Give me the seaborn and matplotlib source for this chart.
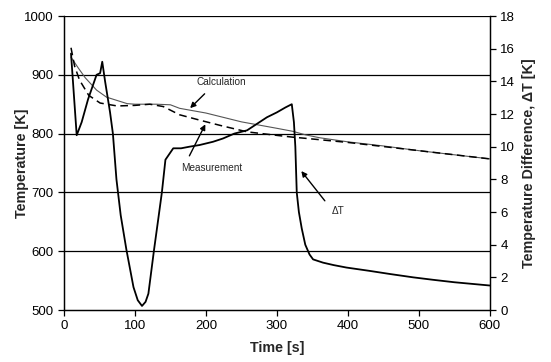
import pandas as pd
import seaborn as sns
import matplotlib.pyplot as plt

# Calculation (temperature, K)
calc_time = [10, 20, 30, 46, 60, 89, 100, 130, 150, 163, 200, 250, 300, 322, 340, 360, 400, 450, 500, 550, 600]
calc_temp = [930, 912, 895, 874, 862, 851, 850, 850, 849, 843, 835, 820, 809, 804, 798, 793, 786, 779, 771, 764, 757]

# Measurement (temperature, K)
meas_time = [10, 15, 22, 35, 51, 75, 100, 121, 140, 163, 191, 220, 258, 300, 322, 340, 400, 450, 500, 550, 600]
meas_temp = [946, 915, 891, 865, 852, 847, 848, 850, 846, 832, 823, 814, 803, 797, 794, 792, 785, 778, 771, 764, 757]

# Temperature difference (K)
dt_time = [10, 18, 25, 34, 46, 51, 54, 58, 65, 69, 74, 80, 88, 98, 104, 110, 115, 119, 127, 133, 138,
           143, 154, 165, 177, 191, 210, 224, 240, 258, 272, 286, 300, 312, 321, 324, 326, 328, 331,
           335, 340, 346, 351, 365, 380, 398, 430, 460, 492, 520, 550, 575, 600]
dt_vals = [15.7, 10.7, 11.5, 12.9, 14.4, 14.5, 15.2, 14.0, 12.1, 10.8, 8.0, 5.8, 3.7, 1.4, 0.6, 0.25, 0.5,
           1.0, 3.7, 5.6, 7.2, 9.2, 9.9, 9.9, 10.0, 10.1, 10.3, 10.5, 10.8, 11.0, 11.4, 11.8, 12.1, 12.4,
           12.6, 11.5, 10.0, 7.2, 6.0, 5.0, 4.0, 3.4, 3.1, 2.9, 2.75, 2.6, 2.4, 2.2, 2.0, 1.85, 1.7, 1.6, 1.5]

calc = pd.DataFrame({'Time': calc_time, 'T': calc_temp})
meas = pd.DataFrame({'Time': meas_time, 'T': meas_temp})
dt = pd.DataFrame({'Time': dt_time, 'dT': dt_vals})

sns.set_style('white')
plt.rcParams['font.family'] = ['Liberation Sans', 'DejaVu Sans']

fig = plt.figure(figsize=(5.51, 3.62), dpi=100)
ax = fig.add_axes([0.116, 0.1436, 0.773, 0.8122])
ax2 = ax.twinx()

sns.lineplot(data=calc, x='Time', y='T', ax=ax, color='#555555', lw=0.8)
sns.lineplot(data=meas, x='Time', y='T', ax=ax, color='black', lw=1.1, linestyle=(0, (5, 3)))
sns.lineplot(data=dt, x='Time', y='dT', ax=ax2, color='black', lw=1.3)

ax.set_xlim(0, 600)
ax.set_ylim(500, 1000)
ax.set_xticks(range(0, 601, 100))
ax.set_yticks(range(500, 1001, 100))
ax2.set_ylim(0, 18)
ax2.set_yticks(range(0, 19, 2))

for y in range(600, 1001, 100):
    ax.axhline(y, color='black', lw=0.9, zorder=0)

for a in (ax, ax2):
    a.spines['top'].set_visible(False)
    for s in ('left', 'right', 'bottom'):
        a.spines[s].set_color('black')
        a.spines[s].set_linewidth(0.9)
    a.tick_params(direction='out', length=4, width=0.9, colors='black', labelsize=9.5)
ax.tick_params(left=True, bottom=True)
ax2.tick_params(right=True)

ax.set_xlabel('Time [s]', fontsize=10.3, fontweight='bold', labelpad=6)
ax.set_ylabel('Temperature [K]', fontsize=10.3, fontweight='bold', labelpad=-4)
ax2.set_ylabel('Temperature Difference, ΔT [K]', fontsize=10.3, fontweight='bold', labelpad=5)

arrow = dict(arrowstyle='-|>', color='black', lw=1.0, mutation_scale=8)
ax.annotate('', xy=(175, 840), xytext=(201, 871), arrowprops=arrow)
ax.text(222, 888, 'Calculation', fontsize=7.2, ha='center', va='center')
ax.annotate('', xy=(201, 820), xytext=(175, 758), arrowprops=arrow)
ax.text(208, 741, 'Measurement', fontsize=7.2, ha='center', va='center')
ax.annotate('', xy=(332, 740), xytext=(370, 682), arrowprops=arrow)
ax.text(386, 668, 'ΔT', fontsize=7.2, ha='center', va='center')

plt.savefig('out.png', dpi=100)
